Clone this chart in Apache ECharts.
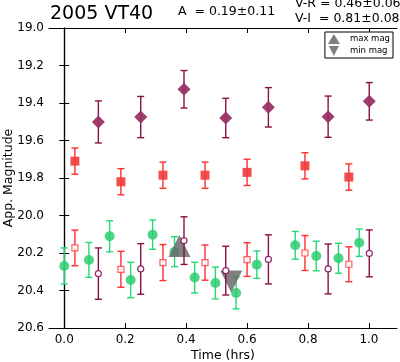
<!DOCTYPE html>
<html><head><meta charset="utf-8">
<script src="https://cdn.jsdelivr.net/npm/echarts@6/dist/echarts.min.js"></script>
<style>html,body{margin:0;padding:0;background:#fff}#c{width:400px;height:362px}</style>
</head><body><div id="c"></div>
<script>
// Tick labels
const xTicks = [0.0, 0.2, 0.4, 0.6, 0.8, 1.0];
const yTicks = [19.0, 19.2, 19.4, 19.6, 19.8, 20.0, 20.2, 20.4, 20.6];

// V band (green filled circles)
const tV = [0.0, 0.081, 0.149, 0.218, 0.29, 0.362, 0.428, 0.496, 0.564, 0.632, 0.758, 0.827, 0.9, 0.968];
const magV = [20.269, 20.237, 20.111, 20.344, 20.102, 20.193, 20.331, 20.36, 20.413, 20.262, 20.159, 20.216, 20.228, 20.145];
const errV = [0.096, 0.093, 0.083, 0.095, 0.078, 0.08, 0.082, 0.085, 0.085, 0.073, 0.074, 0.079, 0.08, 0.073];

// R band (red filled squares) and colour-shifted R (red open squares)
const tR = [0.035, 0.186, 0.324, 0.462, 0.6, 0.79, 0.934];
const magR = [19.71, 19.82, 19.785, 19.785, 19.77, 19.735, 19.795];
const errR = [0.07, 0.07, 0.07, 0.07, 0.07, 0.07, 0.07];
const magRshift = [20.173, 20.287, 20.251, 20.251, 20.235, 20.2, 20.26];
const errRshift = [0.095, 0.096, 0.096, 0.094, 0.09, 0.093, 0.093];

// I band (purple diamonds) and colour-shifted I (purple open circles)
const tI = [0.112, 0.251, 0.393, 0.530, 0.670, 0.866, 1.001];
const magI = [19.501, 19.475, 19.327, 19.48, 19.423, 19.473, 19.391];
const errI = [0.112, 0.11, 0.10, 0.105, 0.105, 0.11, 0.10];
const magIshift = [20.31, 20.285, 20.134, 20.294, 20.234, 20.285, 20.202];
const errIshift = [0.137, 0.135, 0.127, 0.13, 0.131, 0.133, 0.125];

// Max / min markers
const maxPt = [0.378, 20.162];
const minPt = [0.548, 20.352];

const FONT = 'DejaVu Sans';
const zip3 = (t, m, e) => t.map((v, i) => [v, m[i], e[i]]);
const zip2 = (t, m) => t.map((v, i) => [v, m[i]]);

function errRender(color, lw, capHalf) {
  return function (params, api) {
    const x = api.value(0), y = api.value(1), e = api.value(2);
    const p1 = api.coord([x, y - e]), p2 = api.coord([x, y + e]);
    const st = { stroke: color, lineWidth: lw };
    return { type: 'group', children: [
      { type: 'line', shape: { x1: p1[0], y1: p1[1], x2: p2[0], y2: p2[1] }, style: st },
      { type: 'line', shape: { x1: p1[0] - capHalf, y1: p1[1], x2: p1[0] + capHalf, y2: p1[1] }, style: st },
      { type: 'line', shape: { x1: p2[0] - capHalf, y1: p2[1], x2: p2[0] + capHalf, y2: p2[1] }, style: st }
    ]};
  };
}
function errSeries(t, m, e, color, z) {
  return { type: 'custom', silent: true, z: z, data: zip3(t, m, e), encode: { x: 0, y: 1 },
    renderItem: errRender(color, 1.4, 3.5) };
}

const cGreenBar = '#25d877', cGreen = '#2ecc71';
const cRedBar = '#ff2d2d', cRed = '#f23a3a';
const cPurBar = '#8a0e48', cPur = '#993366';

const chart = echarts.init(document.getElementById('c'), null, { renderer: 'canvas' });
const axisCommon = {
  axisLine: { show: true, lineStyle: { color: '#000', width: 1.2 } },
  splitLine: { show: false }
};
chart.setOption({
  animation: false,
  backgroundColor: '#fff',
  textStyle: { fontFamily: FONT },
  grid: { left: 49, right: 3, top: 28, bottom: 34, show: false, containLabel: false, outerBoundsMode: 'none' },
  xAxis: [
    Object.assign({ type: 'value', position: 'bottom', min: -0.05, max: 1.092,
      name: 'Time (hrs)', nameLocation: 'middle', nameGap: 21, nameMoveOverlap: false,
      nameTextStyle: { fontFamily: FONT, fontSize: 12.5, color: '#000' },
      axisTick: { inside: true, length: 5, customValues: xTicks, lineStyle: { color: '#000' } },
      axisLabel: { customValues: xTicks, formatter: v => v.toFixed(1), fontFamily: FONT, fontSize: 12, color: '#000', margin: 6 }
    }, axisCommon),
    Object.assign({ type: 'value', position: 'top', min: -0.05, max: 1.092,
      axisTick: { inside: true, length: 5, customValues: xTicks, lineStyle: { color: '#000' } },
      axisLabel: { show: false }
    }, axisCommon)
  ],
  yAxis: [
    Object.assign({ type: 'value', position: 'left', inverse: true, min: 19.0, max: 20.6,
      name: 'App. Magnitude', nameLocation: 'middle', nameGap: 34, nameRotate: 90, nameMoveOverlap: false,
      nameTextStyle: { fontFamily: FONT, fontSize: 12.5, color: '#000' },
      axisTick: { inside: true, length: 5, customValues: yTicks, lineStyle: { color: '#000' } },
      axisLabel: { customValues: yTicks, formatter: v => v.toFixed(1), fontFamily: FONT, fontSize: 12, color: '#000', margin: 5 }
    }, axisCommon),
    Object.assign({ type: 'value', position: 'right', inverse: true, min: 19.0, max: 20.6,
      axisTick: { inside: true, length: 5, customValues: yTicks, lineStyle: { color: '#000' } },
      axisLabel: { show: false }
    }, axisCommon)
  ],
  legend: {
    data: ['max mag', 'min mag'], orient: 'vertical', right: 7, top: 32,
    itemWidth: 12, itemHeight: 10, itemGap: 2, padding: [2, 3, 2, 3],
    borderColor: '#000', borderWidth: 1, borderRadius: 0, backgroundColor: '#fff',
    textStyle: { fontFamily: FONT, fontSize: 8.5, color: '#000', padding: [0, 0, 0, 5] },
    selectedMode: false
  },
  graphic: [
    { type: 'text', left: 50, top: 5, style: { text: '2005 VT40', font: '19px "DejaVu Sans"', fill: '#000' } },
    { type: 'text', left: 178, top: 5, style: { text: 'A  = 0.19\u00b10.11', font: '12.5px "DejaVu Sans"', fill: '#000' } },
    { type: 'text', left: 295, top: -3, style: { text: 'V-R = 0.46\u00b10.06', font: '12.5px "DejaVu Sans"', fill: '#000' } },
    { type: 'text', left: 295, top: 12, style: { text: 'V-I  = 0.81\u00b10.08', font: '12.5px "DejaVu Sans"', fill: '#000' } }
  ],
  series: [
    errSeries(tV, magV, errV, cGreenBar, 2),
    { type: 'scatter', silent: true, z: 3, symbol: 'circle', symbolSize: 10, data: zip2(tV, magV),
      itemStyle: { color: cGreen, opacity: 0.85 } },
    errSeries(tR, magR, errR, cRedBar, 2),
    { type: 'scatter', silent: true, z: 3, symbol: 'rect', symbolSize: 9, data: zip2(tR, magR),
      itemStyle: { color: cRed, opacity: 0.9 } },
    errSeries(tR, magRshift, errRshift, cRedBar, 2),
    { type: 'scatter', silent: true, z: 3, symbol: 'rect', symbolSize: 6, data: zip2(tR, magRshift),
      itemStyle: { color: '#fff', borderColor: '#ff4a4a', borderWidth: 1.2, opacity: 0.9 } },
    { name: 'max mag', type: 'scatter', silent: true, z: 4, symbol: 'triangle', symbolSize: 22, data: [maxPt],
      itemStyle: { color: '#6a6a6a', opacity: 0.85 } },
    { name: 'min mag', type: 'scatter', silent: true, z: 4, symbol: 'path://M0,0 L2,0 L1,2 Z', symbolSize: 22, data: [minPt],
      itemStyle: { color: '#6a6a6a', opacity: 0.85 } },
    errSeries(tI, magI, errI, cPurBar, 5),
    { type: 'scatter', silent: true, z: 6, symbol: 'diamond', symbolSize: 13, data: zip2(tI, magI),
      itemStyle: { color: cPur, opacity: 0.95 } },
    errSeries(tI, magIshift, errIshift, cPurBar, 5),
    { type: 'scatter', silent: true, z: 6, symbol: 'circle', symbolSize: 6, data: zip2(tI, magIshift),
      itemStyle: { color: '#fff', borderColor: '#8a2060', borderWidth: 1.2, opacity: 0.95 } }
  ]
});
</script>
</body></html>
